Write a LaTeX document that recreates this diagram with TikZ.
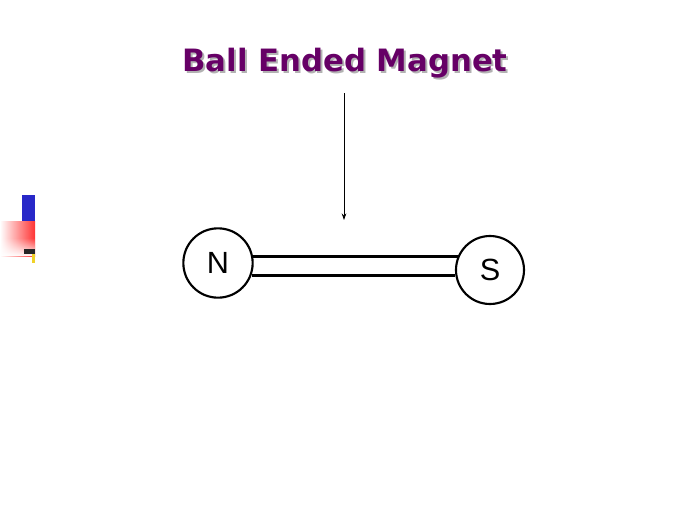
\documentclass[tikz,border=0pt]{standalone}
\usepackage{fontspec}
\setmainfont{DejaVu Sans}
\newfontfamily\letterfont{Liberation Sans}
\usetikzlibrary{arrows.meta,fadings}
\definecolor{titlepurple}{RGB}{102,0,102}
\definecolor{deckblue}{RGB}{40,40,200}
\definecolor{deckyellow}{RGB}{240,210,40}
\begin{document}
\begin{tikzpicture}[x=0.75pt,y=-0.75pt,
  pole/.style={circle,draw=black,line width=1.6pt,minimum size=52pt,inner sep=0pt,
    font=\letterfont\fontsize{23}{23}\selectfont},
  barline/.style={line width=2.2pt,black},
  titletext/.style={font=\bfseries\fontsize{24}{28}\selectfont}]
\useasboundingbox (0,0) rectangle (700,525);
% corner decoration
\fill[deckblue] (22,195) rectangle (35,222);
\shade[left color=white,right color=red!80] (0,221) rectangle (35,256);
\fill[white,path fading=north] (0,238) rectangle (35,256);
\fill[black!85] (24,249) rectangle (35,254);
\fill[deckyellow] (32,254) rectangle (35,263);
% title
\node[titletext,text=black!30] (shadow) at (347,65) {\resizebox{244pt}{!}{Ball Ended Magnet}};
\node[titletext,text=titlepurple] (title) at (345,63) {\resizebox{244pt}{!}{Ball Ended Magnet}};
% arrow
\coordinate (astart) at (344,93);
\coordinate (aend) at (344,220);
\draw[line width=0.6pt,-{Stealth[length=5pt,width=3.5pt]}] (astart) -- (aend);
% magnet
\node[pole] (N) at (218,263) {N};
\node[pole,minimum size=51pt] (S) at (490,270) {\raisebox{-3pt}{S}};
\draw[barline] (N.10) -- (S.157 |- N.10);
\draw[barline] (N.-20) -- (S.188 |- N.-20);
\end{tikzpicture}
\end{document}
